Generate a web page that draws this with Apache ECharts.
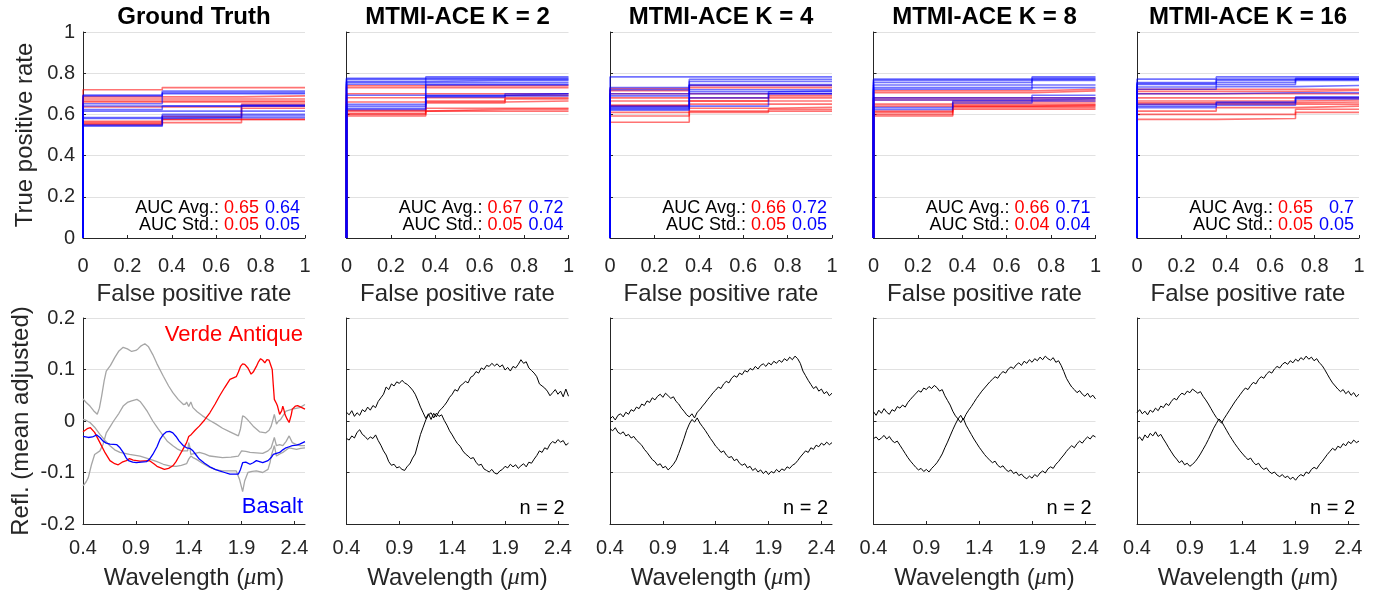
<!DOCTYPE html>
<html><head><meta charset="utf-8">
<script src="https://cdn.jsdelivr.net/npm/echarts@6/dist/echarts.min.js"></script>
<style>html,body{margin:0;padding:0;background:#fff;} #chart{width:1392px;height:599px;}</style>
</head><body><div id="chart"></div>
<script>
// ---------------- DATA ----------------
const panelTitles = ['Ground Truth', 'MTMI-ACE K = 2', 'MTMI-ACE K = 4', 'MTMI-ACE K = 8', 'MTMI-ACE K = 16'];
const aucAvgRed  = ['0.65', '0.67', '0.66', '0.66', '0.65'];
const aucAvgBlue = ['0.64', '0.72', '0.72', '0.71', '0.7'];
const aucStdRed  = ['0.05', '0.05', '0.05', '0.04', '0.05'];
const aucStdBlue = ['0.05', '0.04', '0.05', '0.04', '0.05'];
const nLabel = 'n = 2';

// ROC false-positive-rate step positions
const rocFpr = [0, 0.357, 0.714, 1];
// each ROC curve: TPR on [0,0.357), [0.357,0.714), [0.714,1]
const rocRedGT = [[0.72,0.73,0.73],[0.685,0.685,0.69],[0.675,0.675,0.675],[0.665,0.665,0.665],[0.66,0.66,0.66],[0.636,0.636,0.65],[0.566,0.59,0.64],[0.554,0.576,0.576],[0.55,0.575,0.63],[0.56,0.56,0.575]];
const rocBlueGT = [[0.694,0.713,0.713],[0.69,0.70,0.70],[0.641,0.641,0.641],[0.624,0.641,0.641],[0.616,0.616,0.616],[0.543,0.60,0.60],[0.548,0.592,0.592],[0.585,0.585,0.645],[0.58,0.584,0.584],[0.652,0.705,0.705]];
const rocRedK2 = [[0.739,0.739,0.739],[0.730,0.730,0.730],[0.70,0.70,0.70],[0.681,0.681,0.692],[0.616,0.625,0.625],[0.60,0.616,0.616],[0.592,0.655,0.68],[0.66,0.66,0.665],[0.62,0.665,0.675],[0.605,0.63,0.63]];
const rocBlueK2 = [[0.63,0.782,0.782],[0.775,0.775,0.775],[0.77,0.77,0.77],[0.76,0.765,0.765],[0.755,0.755,0.755],[0.746,0.746,0.746],[0.693,0.693,0.70],[0.649,0.743,0.743],[0.64,0.69,0.69],[0.624,0.685,0.70]];
const rocRedK4 = [[0.725,0.74,0.74],[0.715,0.73,0.73],[0.70,0.70,0.70],[0.68,0.68,0.69],[0.665,0.665,0.68],[0.645,0.665,0.665],[0.64,0.65,0.65],[0.61,0.63,0.635],[0.592,0.616,0.616],[0.562,0.61,0.625]];
const rocBlueK4 = [[0.782,0.782,0.782],[0.73,0.77,0.77],[0.72,0.76,0.76],[0.70,0.745,0.745],[0.64,0.74,0.74],[0.63,0.68,0.71],[0.625,0.70,0.70],[0.635,0.71,0.714],[0.62,0.64,0.70],[0.69,0.72,0.72]];
const rocRedK8 = [[0.714,0.714,0.722],[0.705,0.705,0.714],[0.68,0.68,0.68],[0.67,0.67,0.67],[0.65,0.66,0.66],[0.616,0.65,0.65],[0.61,0.64,0.64],[0.60,0.633,0.633],[0.592,0.625,0.625],[0.64,0.64,0.645]];
const rocBlueK8 = [[0.771,0.771,0.782],[0.765,0.765,0.775],[0.755,0.755,0.77],[0.743,0.743,0.765],[0.73,0.73,0.73],[0.722,0.722,0.743],[0.68,0.68,0.68],[0.67,0.67,0.675],[0.633,0.655,0.693],[0.624,0.665,0.665]];
const rocRedK16 = [[0.722,0.722,0.722],[0.712,0.712,0.716],[0.70,0.70,0.70],[0.68,0.68,0.68],[0.665,0.665,0.67],[0.656,0.656,0.66],[0.649,0.649,0.65],[0.616,0.633,0.64],[0.60,0.60,0.625],[0.576,0.58,0.61]];
const rocBlueK16 = [[0.771,0.782,0.782],[0.755,0.771,0.771],[0.75,0.765,0.765],[0.745,0.755,0.775],[0.733,0.745,0.77],[0.722,0.735,0.74],[0.70,0.705,0.705],[0.649,0.66,0.68],[0.64,0.655,0.685],[0.633,0.645,0.675]];

// Ground-truth spectra [wavelength, reflectance]
const gtVerdeAntique = [[0.40,-0.021],[0.44,-0.015],[0.47,-0.013],[0.51,-0.022],[0.56,-0.042],[0.61,-0.062],[0.655,-0.077],[0.70,-0.083],[0.733,-0.085],[0.77,-0.080],[0.81,-0.077],[0.84,-0.073],[0.875,-0.076],[0.94,-0.078],[1.03,-0.077],[1.07,-0.083],[1.10,-0.088],[1.17,-0.094],[1.21,-0.092],[1.25,-0.087],[1.28,-0.079],[1.31,-0.068],[1.345,-0.055],[1.38,-0.042],[1.40,-0.030],[1.425,-0.026],[1.46,-0.018],[1.50,-0.010],[1.55,0.002],[1.60,0.016],[1.65,0.033],[1.69,0.048],[1.74,0.065],[1.79,0.081],[1.85,0.086],[1.87,0.095],[1.89,0.106],[1.91,0.111],[1.93,0.110],[1.96,0.103],[1.99,0.091],[2.01,0.095],[2.04,0.106],[2.06,0.115],[2.08,0.121],[2.10,0.118],[2.12,0.113],[2.14,0.119],[2.16,0.118],[2.17,0.116],[2.19,0.100],[2.20,0.070],[2.21,0.042],[2.23,0.034],[2.24,0.029],[2.26,0.013],[2.28,0.020],[2.29,0.029],[2.30,0.022],[2.31,0.013],[2.33,0.004],[2.35,-0.003],[2.37,0.012],[2.38,0.023],[2.41,0.029],[2.43,0.030],[2.46,0.027],[2.50,0.023]];
const gtBasalt = [[0.40,-0.030],[0.45,-0.032],[0.49,-0.031],[0.53,-0.027],[0.56,-0.032],[0.59,-0.039],[0.62,-0.043],[0.655,-0.045],[0.72,-0.046],[0.75,-0.052],[0.78,-0.061],[0.81,-0.072],[0.83,-0.077],[0.87,-0.080],[0.905,-0.081],[0.95,-0.080],[1.00,-0.079],[1.03,-0.074],[1.06,-0.065],[1.10,-0.050],[1.13,-0.035],[1.16,-0.026],[1.19,-0.021],[1.22,-0.020],[1.25,-0.023],[1.28,-0.030],[1.31,-0.039],[1.35,-0.048],[1.38,-0.052],[1.41,-0.053],[1.44,-0.058],[1.47,-0.066],[1.50,-0.074],[1.55,-0.082],[1.60,-0.089],[1.65,-0.094],[1.69,-0.097],[1.74,-0.100],[1.79,-0.103],[1.87,-0.103],[1.89,-0.094],[1.91,-0.081],[1.94,-0.080],[1.98,-0.084],[2.01,-0.081],[2.04,-0.077],[2.07,-0.079],[2.10,-0.081],[2.15,-0.077],[2.18,-0.071],[2.20,-0.065],[2.23,-0.063],[2.26,-0.061],[2.29,-0.056],[2.32,-0.052],[2.35,-0.050],[2.38,-0.048],[2.42,-0.047],[2.45,-0.045],[2.50,-0.040]];
const gtGrayA = [[0.40,0.043],[0.43,0.036],[0.466,0.029],[0.50,0.020],[0.535,0.013],[0.555,0.025],[0.576,0.048],[0.60,0.078],[0.62,0.097],[0.66,0.108],[0.70,0.123],[0.74,0.136],[0.78,0.143],[0.82,0.140],[0.86,0.135],[0.90,0.137],[0.92,0.140],[0.95,0.146],[0.985,0.150],[1.02,0.144],[1.06,0.129],[1.10,0.111],[1.16,0.087],[1.21,0.068],[1.25,0.055],[1.30,0.042],[1.35,0.032],[1.37,0.033],[1.38,0.037],[1.40,0.028],[1.42,0.037],[1.44,0.026],[1.48,0.018],[1.53,0.010],[1.60,0.001],[1.66,-0.006],[1.72,-0.014],[1.79,-0.021],[1.87,-0.029],[1.89,-0.015],[1.91,0.010],[1.93,0.008],[1.95,0.004],[2.01,-0.010],[2.07,-0.021],[2.13,-0.023],[2.16,-0.018],[2.18,-0.010],[2.20,0.005],[2.21,0.013],[2.23,-0.006],[2.25,0.000],[2.27,0.003],[2.32,0.019],[2.38,0.023],[2.45,0.026],[2.50,0.032]];
const gtGrayB = [[0.40,-0.126],[0.43,-0.118],[0.45,-0.110],[0.48,-0.085],[0.51,-0.065],[0.56,-0.058],[0.59,-0.045],[0.62,-0.023],[0.66,-0.010],[0.69,0.000],[0.74,0.015],[0.78,0.029],[0.82,0.036],[0.86,0.039],[0.91,0.042],[0.94,0.038],[0.97,0.030],[1.01,0.018],[1.06,0.000],[1.11,-0.015],[1.16,-0.029],[1.20,-0.040],[1.25,-0.048],[1.29,-0.054],[1.33,-0.058],[1.39,-0.058],[1.40,-0.042],[1.41,-0.050],[1.42,-0.065],[1.46,-0.063],[1.50,-0.061],[1.55,-0.064],[1.60,-0.068],[1.72,-0.071],[1.80,-0.070],[1.87,-0.068],[1.90,-0.058],[1.94,-0.059],[1.98,-0.061],[2.04,-0.062],[2.10,-0.063],[2.15,-0.058],[2.18,-0.052],[2.21,-0.032],[2.23,-0.048],[2.26,-0.046],[2.29,-0.048],[2.32,-0.040],[2.35,-0.029],[2.38,-0.042],[2.42,-0.046],[2.45,-0.048],[2.50,-0.048]];
const gtGrayC = [[0.40,0.003],[0.43,0.001],[0.466,-0.003],[0.51,-0.012],[0.56,-0.026],[0.61,-0.038],[0.655,-0.048],[0.70,-0.056],[0.75,-0.061],[0.84,-0.065],[0.94,-0.068],[1.03,-0.074],[1.10,-0.079],[1.16,-0.084],[1.22,-0.087],[1.28,-0.088],[1.33,-0.086],[1.38,-0.083],[1.40,-0.074],[1.42,-0.068],[1.44,-0.071],[1.47,-0.074],[1.53,-0.082],[1.60,-0.090],[1.66,-0.095],[1.72,-0.097],[1.85,-0.097],[1.88,-0.113],[1.91,-0.137],[1.93,-0.116],[1.96,-0.100],[2.00,-0.098],[2.04,-0.097],[2.10,-0.100],[2.15,-0.094],[2.17,-0.080],[2.18,-0.068],[2.21,-0.048],[2.23,-0.068],[2.26,-0.064],[2.29,-0.061],[2.35,-0.052],[2.42,-0.055],[2.46,-0.053],[2.50,-0.052]];

// Estimated endmember spectra (noisy), sampled on this wavelength grid
const wavelengths = [0.4,0.425,0.45,0.475,0.5,0.525,0.55,0.575,0.6,0.625,0.65,0.675,0.7,0.725,0.75,0.775,0.8,0.825,0.85,0.875,0.9,0.925,0.95,0.975,1,1.025,1.05,1.075,1.1,1.125,1.15,1.175,1.2,1.225,1.25,1.275,1.3,1.325,1.35,1.375,1.4,1.425,1.45,1.475,1.5,1.525,1.55,1.575,1.6,1.625,1.65,1.675,1.7,1.725,1.75,1.775,1.8,1.825,1.85,1.875,1.9,1.925,1.95,1.975,2,2.025,2.05,2.075,2.1,2.125,2.15,2.175,2.2,2.225,2.25,2.275,2.3,2.325,2.35,2.375,2.4,2.425,2.45,2.475,2.5];
const k2Upper = [0.017,0.012,0.020,0.009,0.016,0.011,0.022,0.018,0.027,0.021,0.030,0.026,0.038,0.045,0.052,0.066,0.061,0.072,0.068,0.076,0.073,0.079,0.074,0.071,0.066,0.060,0.052,0.040,0.027,0.016,0.005,0.014,0.003,0.015,0.008,0.019,0.024,0.030,0.037,0.046,0.052,0.061,0.058,0.068,0.072,0.077,0.074,0.085,0.088,0.096,0.093,0.103,0.100,0.108,0.106,0.112,0.107,0.111,0.105,0.109,0.099,0.104,0.097,0.106,0.103,0.110,0.119,0.112,0.115,0.103,0.098,0.093,0.086,0.072,0.068,0.064,0.058,0.049,0.055,0.061,0.052,0.058,0.047,0.062,0.048];
const k2Lower = [-0.034,-0.037,-0.029,-0.033,-0.022,-0.017,-0.026,-0.030,-0.036,-0.031,-0.034,-0.027,-0.038,-0.047,-0.058,-0.066,-0.079,-0.086,-0.084,-0.091,-0.089,-0.094,-0.096,-0.088,-0.083,-0.072,-0.064,-0.045,-0.026,-0.012,0.002,0.012,0.016,0.006,0.015,0.009,0.012,0.001,-0.008,-0.019,-0.027,-0.036,-0.044,-0.049,-0.058,-0.064,-0.068,-0.073,-0.071,-0.080,-0.086,-0.084,-0.093,-0.096,-0.099,-0.094,-0.101,-0.103,-0.097,-0.094,-0.088,-0.091,-0.084,-0.089,-0.085,-0.092,-0.087,-0.083,-0.089,-0.080,-0.082,-0.074,-0.067,-0.058,-0.061,-0.052,-0.055,-0.045,-0.040,-0.043,-0.036,-0.041,-0.038,-0.047,-0.043];
const k4Upper = [0.004,0.009,0.002,0.011,0.014,0.008,0.017,0.013,0.022,0.019,0.027,0.024,0.033,0.030,0.039,0.036,0.045,0.041,0.048,0.052,0.046,0.054,0.049,0.044,0.047,0.038,0.033,0.025,0.019,0.012,0.008,0.014,0.006,0.017,0.022,0.029,0.035,0.042,0.048,0.055,0.060,0.066,0.063,0.072,0.077,0.074,0.083,0.088,0.085,0.093,0.090,0.098,0.095,0.102,0.099,0.106,0.101,0.108,0.111,0.106,0.113,0.109,0.116,0.112,0.118,0.114,0.121,0.117,0.124,0.119,0.126,0.121,0.112,0.097,0.088,0.079,0.071,0.063,0.067,0.058,0.062,0.053,0.057,0.049,0.054];
const k4Lower = [-0.015,-0.019,-0.013,-0.022,-0.025,-0.021,-0.029,-0.026,-0.033,-0.030,-0.037,-0.042,-0.047,-0.055,-0.061,-0.068,-0.075,-0.079,-0.086,-0.083,-0.091,-0.088,-0.095,-0.090,-0.084,-0.076,-0.063,-0.049,-0.034,-0.018,-0.006,0.003,-0.002,0.006,-0.004,-0.011,-0.018,-0.026,-0.034,-0.041,-0.049,-0.054,-0.061,-0.058,-0.066,-0.071,-0.069,-0.077,-0.074,-0.082,-0.086,-0.083,-0.091,-0.088,-0.096,-0.092,-0.099,-0.095,-0.102,-0.097,-0.104,-0.098,-0.101,-0.094,-0.099,-0.093,-0.096,-0.089,-0.092,-0.086,-0.083,-0.077,-0.070,-0.064,-0.058,-0.061,-0.052,-0.055,-0.047,-0.050,-0.043,-0.047,-0.041,-0.046,-0.042];
const k8Upper = [0.018,0.011,0.021,0.015,0.024,0.017,0.013,0.022,0.019,0.028,0.025,0.031,0.027,0.036,0.042,0.048,0.053,0.059,0.056,0.064,0.061,0.067,0.063,0.069,0.065,0.058,0.061,0.049,0.040,0.031,0.019,0.010,0.004,0.011,0.002,0.013,0.021,0.028,0.036,0.044,0.051,0.058,0.064,0.070,0.076,0.081,0.086,0.083,0.091,0.096,0.093,0.101,0.105,0.102,0.109,0.113,0.108,0.116,0.112,0.119,0.114,0.121,0.117,0.124,0.119,0.126,0.121,0.118,0.123,0.114,0.117,0.108,0.096,0.083,0.074,0.066,0.061,0.055,0.059,0.052,0.048,0.054,0.046,0.050,0.043];
const k8Lower = [-0.034,-0.031,-0.037,-0.033,-0.028,-0.035,-0.030,-0.038,-0.042,-0.039,-0.047,-0.055,-0.063,-0.071,-0.078,-0.084,-0.090,-0.095,-0.092,-0.098,-0.094,-0.099,-0.092,-0.087,-0.081,-0.073,-0.064,-0.052,-0.041,-0.029,-0.017,-0.006,0.004,-0.003,0.005,-0.008,-0.017,-0.026,-0.035,-0.043,-0.051,-0.058,-0.065,-0.071,-0.076,-0.081,-0.078,-0.086,-0.090,-0.087,-0.094,-0.098,-0.095,-0.102,-0.099,-0.106,-0.103,-0.109,-0.112,-0.107,-0.111,-0.104,-0.108,-0.101,-0.097,-0.101,-0.093,-0.089,-0.092,-0.084,-0.079,-0.072,-0.066,-0.059,-0.053,-0.048,-0.052,-0.044,-0.039,-0.043,-0.036,-0.031,-0.035,-0.028,-0.031];
const k16Upper = [0.016,0.022,0.014,0.019,0.012,0.021,0.017,0.025,0.020,0.029,0.026,0.034,0.030,0.038,0.044,0.041,0.049,0.054,0.051,0.058,0.055,0.062,0.058,0.054,0.057,0.048,0.041,0.033,0.024,0.015,0.007,0.001,-0.004,0.005,0.013,0.021,0.029,0.037,0.044,0.051,0.058,0.064,0.061,0.069,0.075,0.072,0.081,0.086,0.083,0.091,0.096,0.093,0.101,0.106,0.103,0.110,0.114,0.110,0.117,0.113,0.120,0.116,0.123,0.119,0.126,0.120,0.124,0.117,0.121,0.113,0.108,0.100,0.091,0.082,0.074,0.068,0.062,0.057,0.061,0.053,0.058,0.050,0.055,0.047,0.052];
const k16Lower = [-0.036,-0.031,-0.038,-0.027,-0.033,-0.024,-0.029,-0.021,-0.030,-0.026,-0.035,-0.043,-0.052,-0.060,-0.068,-0.074,-0.081,-0.077,-0.085,-0.082,-0.088,-0.084,-0.079,-0.072,-0.064,-0.055,-0.046,-0.036,-0.025,-0.014,-0.005,0.004,-0.001,-0.010,-0.019,-0.028,-0.036,-0.044,-0.051,-0.058,-0.064,-0.070,-0.075,-0.072,-0.080,-0.085,-0.082,-0.090,-0.094,-0.091,-0.098,-0.102,-0.099,-0.105,-0.108,-0.104,-0.110,-0.107,-0.113,-0.109,-0.115,-0.108,-0.104,-0.107,-0.099,-0.102,-0.094,-0.090,-0.093,-0.085,-0.079,-0.072,-0.065,-0.059,-0.053,-0.057,-0.049,-0.052,-0.044,-0.048,-0.040,-0.044,-0.037,-0.042,-0.039];

// ---------------- LAYOUT / STYLE ----------------
const FONT = 'Liberation Sans';
const GL = 83, GDX = 263.5, GW = 222, TOP1 = 32, TOP2 = 318, GH = 206;
const AX = '#262626', GRIDC = '#e1e1e1';

const rocRed = [rocRedGT, rocRedK2, rocRedK4, rocRedK8, rocRedK16];
const rocBlue = [rocBlueGT, rocBlueK2, rocBlueK4, rocBlueK8, rocBlueK16];
const estPairs = [null, [k2Upper, k2Lower], [k4Upper, k4Lower], [k8Upper, k8Lower], [k16Upper, k16Lower]];

function rocPath(t) {
  return [[rocFpr[0], 0], [rocFpr[0], t[0]], [rocFpr[1], t[1]], [rocFpr[2], t[2]], [rocFpr[3], t[2]]];
}
function zipWl(vals) { return vals.map((v, i) => [wavelengths[i], v]); }

function baseAxis() {
  return {
    type: 'value',
    axisLine: { show: true, onZero: false, lineStyle: { color: AX, width: 1 } },
    axisTick: { show: true, inside: true, length: 3, lineStyle: { color: AX } },
    axisLabel: { color: AX, fontFamily: FONT, fontSize: 20 },
    nameTextStyle: { color: AX, fontFamily: FONT, fontSize: 24 },
    nameLocation: 'middle',
    splitLine: { show: false }
  };
}

const grids = [], xAxes = [], yAxes = [], series = [], gfx = [];
for (let c = 0; c < 5; c++) {
  const left = GL + c * GDX;
  grids.push({ left, top: TOP1, width: GW, height: GH, containLabel: false });
  grids.push({ left, top: TOP2, width: GW, height: GH, containLabel: false });
  const gt = 2 * c, gb = 2 * c + 1;

  // top row axes
  const xt = baseAxis();
  Object.assign(xt, { gridIndex: gt, min: 0, max: 1, interval: 0.2, name: 'False positive rate', nameGap: 44 });
  xt.axisLabel.margin = 18;
  const yt = baseAxis();
  Object.assign(yt, { gridIndex: gt, min: 0, max: 1, interval: 0.2,
    splitLine: { show: true, lineStyle: { color: GRIDC, width: 1 } } });
  yt.axisLabel.show = c === 0; yt.axisLabel.margin = 8;
  if (c === 0) { yt.name = 'True positive rate'; yt.nameGap = 46; }

  // bottom row axes
  const xb = baseAxis();
  Object.assign(xb, { gridIndex: gb, min: 0.4, max: 2.5, interval: 0.5, name: 'Wavelength ({mu|\u03bc}m)', nameGap: 42 });
  xb.axisLabel.margin = 14; xb.axisLabel.showMaxLabel = false;
  xb.axisLabel.formatter = v => (Math.round(v * 10) / 10).toFixed(1);
  xb.nameTextStyle.rich = { mu: { fontFamily: 'Liberation Serif', fontStyle: 'italic', fontSize: 24, color: AX } };
  const yb = baseAxis();
  Object.assign(yb, { gridIndex: gb, min: -0.2, max: 0.2, interval: 0.1,
    splitLine: { show: true, lineStyle: { color: GRIDC, width: 1 } } });
  yb.axisLabel.show = c === 0; yb.axisLabel.margin = 8;
  if (c === 0) { yb.name = 'Refl. (mean adjusted)'; yb.nameGap = 50; }

  xAxes.push(xt, xb); yAxes.push(yt, yb);

  // ROC curves
  rocRed[c].forEach(t => series.push({ type: 'line', xAxisIndex: gt, yAxisIndex: gt, data: rocPath(t), step: 'end',
    symbol: 'none', silent: true, lineStyle: { color: '#ff0000', width: 1.6, opacity: 0.55 } }));
  rocBlue[c].forEach(t => series.push({ type: 'line', xAxisIndex: gt, yAxisIndex: gt, data: rocPath(t), step: 'end',
    symbol: 'none', silent: true, lineStyle: { color: '#0000ff', width: 1.6, opacity: 0.55 } }));

  // spectra
  if (c === 0) {
    [gtGrayA, gtGrayB, gtGrayC].forEach(d => series.push({ type: 'line', xAxisIndex: gb, yAxisIndex: gb, data: d,
      symbol: 'none', silent: true, lineStyle: { color: '#a6a6a6', width: 1.3 } }));
    series.push({ type: 'line', xAxisIndex: gb, yAxisIndex: gb, data: gtVerdeAntique, symbol: 'none', silent: true,
      lineStyle: { color: '#ff0000', width: 1.3 } });
    series.push({ type: 'line', xAxisIndex: gb, yAxisIndex: gb, data: gtBasalt, symbol: 'none', silent: true,
      lineStyle: { color: '#0000ff', width: 1.3 } });
  } else {
    estPairs[c].forEach(v => series.push({ type: 'line', xAxisIndex: gb, yAxisIndex: gb, data: zipWl(v),
      symbol: 'none', silent: true, lineStyle: { color: '#000000', width: 1 } }));
  }

  // texts
  gfx.push({ type: 'text', x: left + GW / 2, y: 17, silent: true,
    style: { text: panelTitles[c], fontFamily: FONT, fontSize: 24, fontWeight: 'bold', fill: '#000', align: 'center', verticalAlign: 'middle' } });
  const rich = { k: { fill: '#000', fontFamily: FONT, fontSize: 18 }, r: { fill: '#ff0000', fontFamily: FONT, fontSize: 18 },
    b: { fill: '#0000ff', fontFamily: FONT, fontSize: 18, width: 36, align: 'right' } };
  gfx.push({ type: 'text', x: left + GW - 5, y: 208, silent: true,
    style: { text: '{k|AUC Avg.:} {r|' + aucAvgRed[c] + '} {b|' + aucAvgBlue[c] + '}', fontFamily: FONT, fontSize: 18, fill: '#000', align: 'right', verticalAlign: 'middle', rich } });
  gfx.push({ type: 'text', x: left + GW - 5, y: 225, silent: true,
    style: { text: '{k|AUC Std.:} {r|' + aucStdRed[c] + '} {b|' + aucStdBlue[c] + '}', fontFamily: FONT, fontSize: 18, fill: '#000', align: 'right', verticalAlign: 'middle', rich } });
  if (c > 0) {
    gfx.push({ type: 'text', x: left + GW - 4, y: 508, silent: true,
      style: { text: nLabel, fontFamily: FONT, fontSize: 20, fill: '#000', align: 'right', verticalAlign: 'middle' } });
  }
}
gfx.push({ type: 'text', x: GL + GW - 2, y: 335, silent: true,
  style: { text: 'Verde Antique', fontFamily: FONT, fontSize: 22, fill: '#ff0000', align: 'right', verticalAlign: 'middle' } });
gfx.push({ type: 'text', x: GL + GW - 2, y: 507, silent: true,
  style: { text: 'Basalt', fontFamily: FONT, fontSize: 22, fill: '#0000ff', align: 'right', verticalAlign: 'middle' } });

const chart = echarts.init(document.getElementById('chart'), null, { renderer: 'canvas' });
chart.setOption({
  animation: false,
  backgroundColor: '#ffffff',
  grid: grids,
  xAxis: xAxes,
  yAxis: yAxes,
  series,
  graphic: { elements: gfx }
});
</script>
</body></html>
